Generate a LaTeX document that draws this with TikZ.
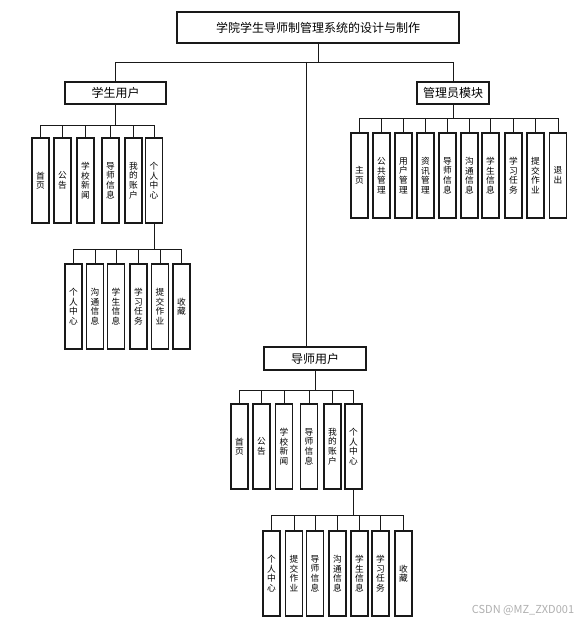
\documentclass[tikz,border=0pt]{standalone}
\usepackage{fontspec}
\setmainfont{Noto Sans CJK SC}
\usetikzlibrary{positioning,shadows}
\definecolor{borde}{RGB}{25,25,25}
\definecolor{sombra}{RGB}{170,170,170}
\definecolor{marca}{RGB}{175,175,175}

\begin{document}
\begin{tikzpicture}[x=1pt, y=-1pt,
  caja/.style={draw=borde, fill=white, line width=1.1pt, inner sep=1pt,
               drop shadow={shadow xshift=0.9pt, shadow yshift=-0.9pt, fill=sombra}},
  titulo/.style={caja, minimum width=282pt, minimum height=31pt,
                 font=\fontsize{12}{14}\selectfont},
  modulo/.style={caja, minimum height=22pt, font=\fontsize{12}{14}\selectfont},
  hoja/.style={caja, minimum width=17pt, minimum height=85pt, inner sep=0pt,
               align=center, font=\fontsize{8.7}{9.6}\selectfont},
  linea/.style={draw=borde, line width=0.8pt}]
  \useasboundingbox (0,0) rectangle (586,623);
  % raiz y modulos
  \node[titulo] (sis) at (318,27.5) {学院学生导师制管理系统的设计与制作};
  \node[modulo, minimum width=101pt] (est) at (115.5,93) {学生用户};
  \node[modulo, minimum width=72pt] (adm) at (453,93) {管理员模块};
  \node[modulo, minimum width=102pt, minimum height=23pt] (tut) at (315,358.5) {导师用户};
  \coordinate (rz) at (318,62);
  \coordinate (rt) at (306,62);
  \draw[linea] (sis.south) -- (rz) -| (est.north);
  \draw[linea] (rz) -| (adm.north);
  \draw[linea] (rt) -- (rt |- tut.north);
  % estudiante
  \foreach \nm/\x/\txt in {e1/40.5/首\\页, e2/62.5/公\\告, e3/85.5/学\\校\\新\\闻,
      e4/110.5/导\\师\\信\\息, e5/133.5/我\\的\\账\\户, e6/154/个\\人\\中\\心}
    \node[hoja] (\nm) at (\x,180.5) {\txt};
  \foreach \nm in {e1,e2,e3,e4,e5,e6}
    \draw[linea] (est.south) -- ++(0,21) -| (\nm.north);
  \foreach \nm/\x/\txt in {s1/73.5/个\\人\\中\\心, s2/95/沟\\通\\信\\息, s3/116/学\\生\\信\\息,
      s4/138.5/学\\习\\任\\务, s5/160/提\\交\\作\\业, s6/181.5/收\\藏}
    \node[hoja] (\nm) at (\x,306.5) {\txt};
  \foreach \nm in {s1,s2,s3,s4,s5,s6}
    \draw[linea] (e6.south) -- ++(0,26) -| (\nm.north);
  % administrador
  \foreach \nm/\x/\txt in {a1/359.5/主\\页, a2/381.5/公\\共\\管\\理, a3/403.5/用\\户\\管\\理,
      a4/425.5/资\\讯\\管\\理, a5/447.5/导\\师\\信\\息, a6/469.5/沟\\通\\信\\息,
      a7/490.5/学\\生\\信\\息, a8/513.5/学\\习\\任\\务, a9/535.5/提\\交\\作\\业,
      a10/558/退\\出}
    \node[hoja] (\nm) at (\x,175.5) {\txt};
  \foreach \nm in {a1,a2,a3,a4,a5,a6,a7,a8,a9,a10}
    \draw[linea] (adm.south) -- ++(0,14) -| (\nm.north);
  % tutor
  \foreach \nm/\x/\txt in {t1/239.5/首\\页, t2/261.5/公\\告, t3/284/学\\校\\新\\闻,
      t4/309/导\\师\\信\\息, t5/332.5/我\\的\\账\\户, t6/353.5/个\\人\\中\\心}
    \node[hoja] (\nm) at (\x,446.5) {\txt};
  \foreach \nm in {t1,t2,t3,t4,t5,t6}
    \draw[linea] (tut.south) -- ++(0,20) -| (\nm.north);
  \foreach \nm/\x/\txt in {u1/271.5/个\\人\\中\\心, u2/294/提\\交\\作\\业, u3/315/导\\师\\信\\息,
      u4/337.5/沟\\通\\信\\息, u5/359.5/学\\生\\信\\息, u6/380.5/学\\习\\任\\务,
      u7/403.5/收\\藏}
    \node[hoja] (\nm) at (\x,573.5) {\txt};
  \foreach \nm in {u1,u2,u3,u4,u5,u6,u7}
    \draw[linea] (t6.south) -- ++(0,26) -| (\nm.north);
  \node[text=marca, font=\fontsize{11}{12}\selectfont] (firma) at (523,610) {CSDN @MZ\_ZXD001};
\end{tikzpicture}
\end{document}
